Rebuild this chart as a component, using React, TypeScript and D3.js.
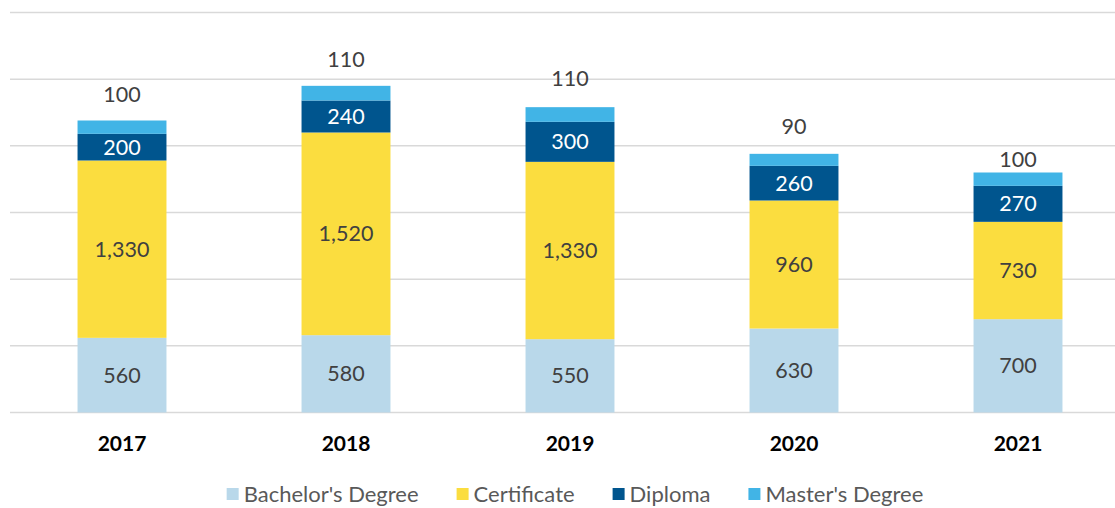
import React, { useEffect, useRef, useState } from "react";
import * as d3 from "d3";

const years = ["2017", "2018", "2019", "2020", "2021"];
const seriesNames = ["Bachelor's Degree", "Certificate", "Diploma", "Master's Degree"];
const bachelor = [560, 580, 550, 630, 700];
const certificate = [1330, 1520, 1330, 960, 730];
const diploma = [200, 240, 300, 260, 270];
const masters = [100, 110, 110, 90, 100];
const colors = ["#B9D8EA", "#FBDD3F", "#00558E", "#41B4E6"];
const labelColors = ["#404040", "#404040", "#FFFFFF", "#404040"];
const gridTicks = [0, 500, 1000, 1500, 2000, 2500, 3000];
// gap (px) between the bar top and the baseline of the label above it
const topLabelGap = [19, 19, 21, 20, 6];

const W = 1115;
const H = 508;
const FONT = "Lato, 'Open Sans', sans-serif";

export default function App() {
  const legendRefs = useRef<(SVGTextElement | null)[]>([]);
  const [textW, setTextW] = useState<number[]>(seriesNames.map((n) => n.length * 10));

  useEffect(() => {
    const w = legendRefs.current.map((el, i) => (el ? el.getComputedTextLength() : seriesNames[i].length * 10));
    setTextW(w);
  }, []);

  const rows = years.map((y, i) => ({
    year: y,
    [seriesNames[0]]: bachelor[i],
    [seriesNames[1]]: certificate[i],
    [seriesNames[2]]: diploma[i],
    [seriesNames[3]]: masters[i],
  }));
  const stack = d3.stack<any>().keys(seriesNames)(rows as any);
  const x = d3.scaleBand().domain(years).range([10, 1130]).paddingInner(0.603).paddingOuter(0.3015);
  const y = d3.scaleLinear().domain([0, 3000]).range([412.5, 12.5]);
  const fmt = d3.format(",");

  const legendGap = 38;
  const widths = textW.map((w) => 17 + w);
  const totalW = widths.reduce((a, b) => a + b, 0) + legendGap * (seriesNames.length - 1);
  let lx = 575 - totalW / 2;
  const legendX = widths.map((w) => {
    const v = lx;
    lx += w + legendGap;
    return v;
  });

  return (
    <svg width={W} height={H} style={{ position: "absolute", left: 0, top: 0, background: "#fff" }}>
      {gridTicks.map((t) => (
        <line key={t} x1={10} x2={W} y1={y(t)} y2={y(t)} stroke="#D9D9D9" strokeWidth={1.5} />
      ))}
      {stack.map((s, si) => (
        <g key={s.key}>
          {s.map((d, i) => {
            const x0 = x(years[i])!;
            const top = y(d[1]);
            const bot = y(d[0]);
            const inside = si < 3;
            return (
              <g key={i}>
                <rect x={x0} y={top} width={x.bandwidth()} height={bot - top} fill={colors[si]} />
                <text
                  x={x0 + x.bandwidth() / 2}
                  y={inside ? (top + bot) / 2 + 7.5 : top - topLabelGap[i]}
                  textAnchor="middle"
                  fontFamily={FONT}
                  fontSize={21.5}
                  fill={labelColors[si]}
                >
                  {fmt(d[1] - d[0])}
                </text>
              </g>
            );
          })}
        </g>
      ))}
      {years.map((yr) => (
        <text
          key={yr}
          x={x(yr)! + x.bandwidth() / 2}
          y={450.5}
          textAnchor="middle"
          fontFamily={FONT}
          fontWeight="bold"
          fontSize={21}
          fill="#000"
        >
          {yr}
        </text>
      ))}
      {seriesNames.map((n, i) => (
        <g key={n} transform={`translate(${legendX[i]},0)`}>
          <rect x={0} y={488} width={12} height={12} fill={colors[i]} />
          <text
            ref={(el) => {
              legendRefs.current[i] = el;
            }}
            x={17}
            y={502}
            fontFamily={FONT}
            fontSize={22}
            fill="#595959"
          >
            {n}
          </text>
        </g>
      ))}
    </svg>
  );
}
